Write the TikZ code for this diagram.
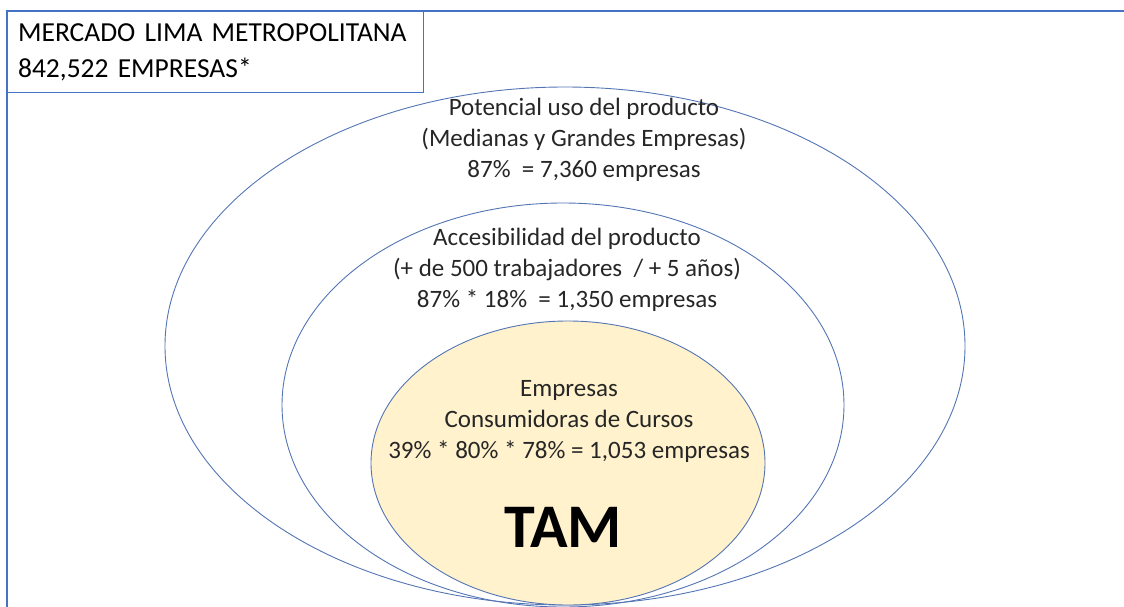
\documentclass[tikz,border=0pt]{standalone}
\usepackage{fontspec}
\setmainfont{Carlito}
\definecolor{framecol}{HTML}{4472C4}
\definecolor{ellcol}{HTML}{5475B4}
\definecolor{tamfill}{HTML}{FFF2CC}
\tikzset{
  frameline/.style={draw=framecol, line width=1.2pt},
  ellline/.style={draw=ellcol, line width=0.9pt},
  labeltext/.style={align=center, inner sep=0pt, font=\fontsize{25}{31}\selectfont, text=black!85},
}
\begin{document}
\begin{tikzpicture}[x=1pt,y=-1pt]
\useasboundingbox (0,0) rectangle (1124,607);
\begin{scope}
  \clip (0,0) rectangle (1124,607);
  \path[ellline] (565,346) ellipse [x radius=400, y radius=259];
  \path[ellline] (563,405) ellipse [x radius=281, y radius=202];
  \path[ellline, fill=tamfill] (568,463) ellipse [x radius=197, y radius=142];
\end{scope}
\coordinate (fb) at (7,607);
\coordinate (ftl) at (7,11);
\coordinate (fr) at (1124,11);
\draw[frameline] (fb) -- (ftl) -- (fr);
\node[frameline, fill=white, anchor=north west, minimum width=416pt, minimum height=81pt,
      text width=395pt, inner xsep=10pt, align=left, font=\fontsize{27.5}{36}\selectfont] (title) at (7,11)
  {MERCADO LIMA METROPOLITANA\\842,522 EMPRESAS*};
\node[labeltext] (pot) at (584,140)
  {Potencial uso del producto\\(Medianas y Grandes Empresas)\\87\%\ \ = 7,360 empresas};
\node[labeltext] (acc) at (567,270)
  {Accesibilidad del producto\\(+ de 500 trabajadores\ \ / + 5 años)\\87\% * 18\%\ \ = 1,350 empresas};
\node[labeltext] (emp) at (569,421)
  {Empresas\\Consumidoras de Cursos\\39\% * 80\% * 78\% = 1,053 empresas};
\node[inner sep=0pt, font=\fontsize{62}{64}\selectfont\bfseries] (tam) at (563,527) {TAM};
\end{tikzpicture}
\end{document}
